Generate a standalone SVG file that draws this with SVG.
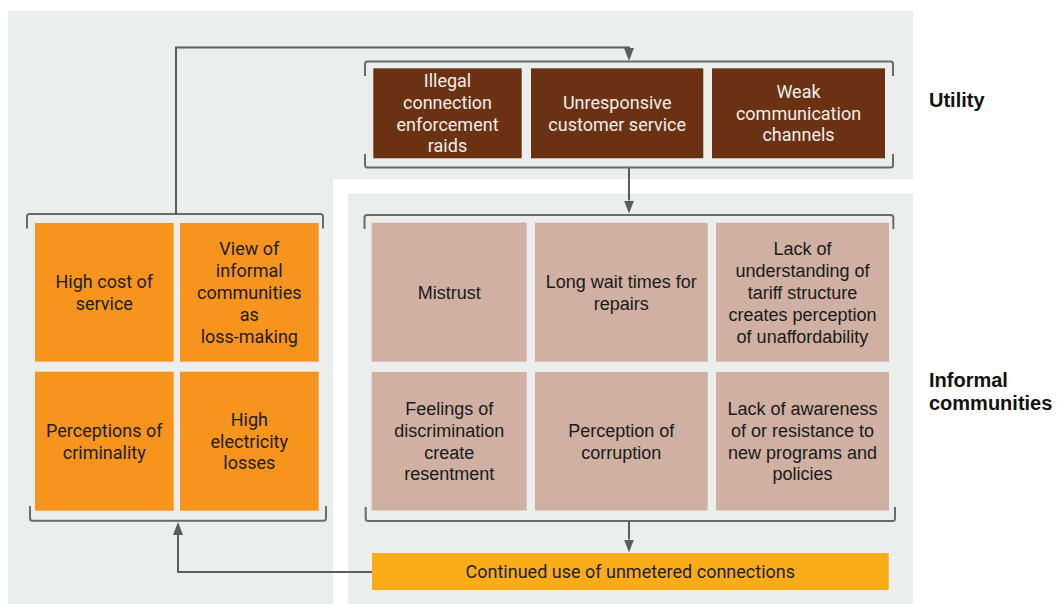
<svg xmlns="http://www.w3.org/2000/svg" width="1057" height="604" viewBox="0 0 1057 604">
  <style>
    .panel { fill: #eceeed; }
    .util { fill: #6a3213; }
    .cost { fill: #f7941e; }
    .comm { fill: #cfb0a2; }
    .result { fill: #fbad19; }
    .bracket { fill: none; stroke: #6b6b6b; stroke-width: 2; stroke-linejoin: round; }
    .conn { fill: none; stroke: #5c5c5c; stroke-width: 2; }
    .t { font-family: Roboto, "Liberation Sans", sans-serif; font-size: 18px; text-anchor: middle; fill: #1d1d1d; }
    .tl { fill: #f3ede8; }
    .ta { font-family: "Liberation Sans", Arial, sans-serif; font-size: 18px; text-anchor: middle; fill: #1a1a1a; }
    .lbl { font-family: "Liberation Sans", Arial, sans-serif; font-size: 20px; font-weight: bold; fill: #111; }
  </style>
  <defs>
    <marker id="arrow" markerUnits="userSpaceOnUse" markerWidth="13" markerHeight="10" viewBox="0 0 13 10" refX="0" refY="5" orient="auto">
      <path d="M0,0 L13,5 L0,10 Z" fill="#5c5c5c"/>
    </marker>
  </defs>

  <!-- background panels -->
  <path class="panel" d="M8,11 H913 V179 H333 V604 H8 Z"/>
  <rect class="panel" x="348" y="193.5" width="565" height="410.5"/>

  <!-- group brackets -->
  <g id="brackets">
    <path class="bracket" d="M365,76 V64 Q365,61.5 367.5,61.5 H890.5 Q893,61.5 893,64 V76"/>
    <path class="bracket" d="M365,154 V165 Q365,167.5 367.5,167.5 H890.5 Q893,167.5 893,165 V154"/>
    <path class="bracket" d="M27,228.5 V216.5 Q27,214 29.5,214 H320.5 Q323,214 323,216.5 V228.5"/>
    <path class="bracket" d="M30,506 V518.2 Q30,520.7 32.5,520.7 H323.5 Q326,520.7 326,518.2 V506"/>
    <path class="bracket" d="M364.5,229 V217.5 Q364.5,215 367,215 H890.8 Q893.3,215 893.3,217.5 V229"/>
    <path class="bracket" d="M365.7,507 V518.5 Q365.7,521 368.2,521 H892.5 Q895,521 895,518.5 V507"/>
  </g>

  <!-- connectors -->
  <g id="connectors">
    <path class="conn" d="M176,214 V47.5 H629 V48" marker-end="url(#arrow)"/>
    <path class="conn" d="M629,167.5 V200.5" marker-end="url(#arrow)"/>
    <path class="conn" d="M629,521 V539.5" marker-end="url(#arrow)"/>
    <path class="conn" d="M372,572 H178 V535" marker-end="url(#arrow)"/>
  </g>

  <!-- utility row -->
  <g id="illegal-raids">
    <rect class="util" x="373.3" y="68.3" width="148.4" height="90"/>
    <text class="t tl"><tspan x="447.5" y="87.3">Illegal</tspan><tspan x="447.5" y="108.9">connection</tspan><tspan x="447.5" y="130.5">enforcement</tspan><tspan x="447.5" y="152.1">raids</tspan></text>
  </g>
  <g id="unresponsive-service">
    <rect class="util" x="531" y="68.3" width="172.3" height="90"/>
    <text class="t tl"><tspan x="617.2" y="108.9">Unresponsive</tspan><tspan x="617.2" y="130.5">customer service</tspan></text>
  </g>
  <g id="weak-communication">
    <rect class="util" x="712" y="68.3" width="173" height="90"/>
    <text class="t tl"><tspan x="798.5" y="98.1">Weak</tspan><tspan x="798.5" y="119.7">communication</tspan><tspan x="798.5" y="141.3">channels</tspan></text>
  </g>

  <!-- utility perceptions -->
  <g id="high-cost">
    <rect class="cost" x="35" y="223" width="138.7" height="138.7"/>
    <text class="t"><tspan x="104.3" y="287.9">High cost of</tspan><tspan x="104.3" y="309.5">service</tspan></text>
  </g>
  <g id="loss-making">
    <rect class="cost" x="180" y="223" width="138.7" height="138.7"/>
    <text class="t"><tspan x="249.3" y="254.7">View of</tspan><tspan x="249.3" y="276.7">informal</tspan><tspan x="249.3" y="298.7">communities</tspan><tspan x="249.3" y="320.7">as</tspan><tspan x="249.3" y="342.7">loss-making</tspan></text>
  </g>
  <g id="criminality">
    <rect class="cost" x="35" y="371.7" width="138.7" height="139"/>
    <text class="t"><tspan x="104.3" y="436.8">Perceptions of</tspan><tspan x="104.3" y="458.6">criminality</tspan></text>
  </g>
  <g id="electricity-losses">
    <rect class="cost" x="180" y="371.7" width="138.7" height="139"/>
    <text class="t"><tspan x="249.3" y="426">High</tspan><tspan x="249.3" y="447.6">electricity</tspan><tspan x="249.3" y="469.2">losses</tspan></text>
  </g>

  <!-- community perceptions -->
  <g id="mistrust">
    <rect class="comm" x="371.7" y="222.7" width="155" height="139"/>
    <text class="ta" x="449.2" y="298.7">Mistrust</text>
  </g>
  <g id="wait-times">
    <rect class="comm" x="535" y="222.7" width="172.7" height="139"/>
    <text class="ta"><tspan x="621.3" y="287.9">Long wait times for</tspan><tspan x="621.3" y="309.5">repairs</tspan></text>
  </g>
  <g id="tariff-structure">
    <rect class="comm" x="716" y="222.7" width="173" height="139"/>
    <text class="ta"><tspan x="802.5" y="254.7">Lack of</tspan><tspan x="802.5" y="276.7">understanding of</tspan><tspan x="802.5" y="298.7">tariff structure</tspan><tspan x="802.5" y="320.7">creates perception</tspan><tspan x="802.5" y="342.7">of unaffordability</tspan></text>
  </g>
  <g id="discrimination">
    <rect class="comm" x="371.7" y="372" width="155" height="138.5"/>
    <text class="ta"><tspan x="449.2" y="414.9">Feelings of</tspan><tspan x="449.2" y="436.7">discrimination</tspan><tspan x="449.2" y="458.5">create</tspan><tspan x="449.2" y="480.3">resentment</tspan></text>
  </g>
  <g id="corruption">
    <rect class="comm" x="535" y="372" width="172.7" height="138.5"/>
    <text class="ta"><tspan x="621.3" y="436.8">Perception of</tspan><tspan x="621.3" y="458.6">corruption</tspan></text>
  </g>
  <g id="awareness">
    <rect class="comm" x="716" y="372" width="173" height="138.5"/>
    <text class="ta"><tspan x="802.5" y="414.9">Lack of awareness</tspan><tspan x="802.5" y="436.7">of or resistance to</tspan><tspan x="802.5" y="458.5">new programs and</tspan><tspan x="802.5" y="480.3">policies</tspan></text>
  </g>

  <!-- outcome -->
  <g id="unmetered">
    <rect class="result" x="372" y="553" width="516.7" height="37"/>
    <text class="t" x="630.3" y="578">Continued use of unmetered connections</text>
  </g>

  <!-- row labels -->
  <g id="label-utility">
    <text class="lbl" x="929" y="107">Utility</text>
  </g>
  <g id="label-communities">
    <text class="lbl"><tspan x="929" y="386.7">Informal</tspan><tspan x="929" y="410">communities</tspan></text>
  </g>
</svg>
